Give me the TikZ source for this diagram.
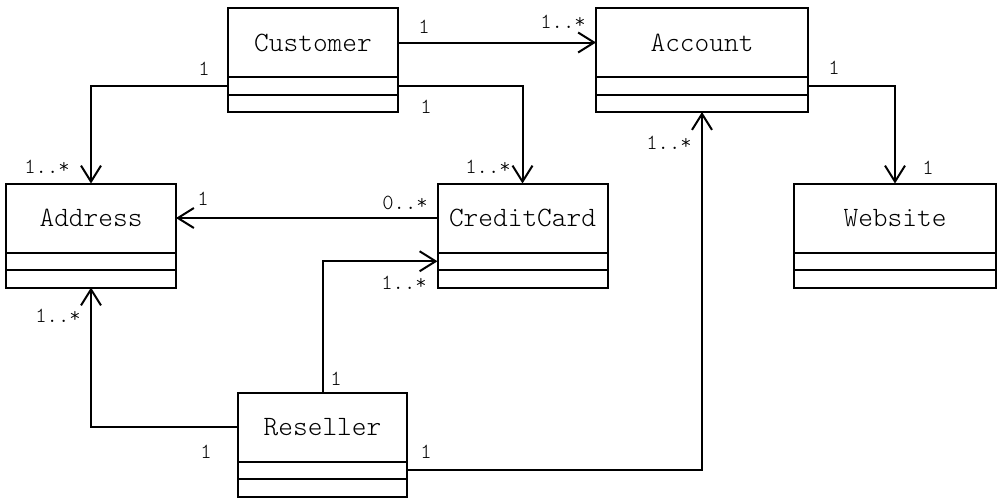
\documentclass[tikz,border=0pt]{standalone}
\usepackage{fontspec}
\setmonofont{Latin Modern Mono Light}
\usetikzlibrary{arrows.meta}
\begin{document}
\begin{tikzpicture}[x=1pt,y=-1pt,
  namebox/.style={draw,line width=2pt,outer sep=0pt,minimum height=69pt,inner sep=0pt,font=\ttfamily\fontsize{28}{30}\selectfont},
  compbox/.style={draw,line width=2pt,outer sep=0pt,minimum height=17.5pt,inner sep=0pt,anchor=north},
  lbl/.style={font=\ttfamily\fontsize{21.5}{23}\selectfont,inner sep=0pt},
  assoc/.style={line width=2pt,-{Straight Barb[length=16pt,width=20pt]}}]
\useasboundingbox (0,0) rectangle (1001,499);
\newcommand{\umlclass}[5]{%
  \node[namebox,minimum width=#5] (#1) at (#3,#4) {#2};
  \node[compbox,minimum width=#5] (#1a) at (#1.south) {};
  \node[compbox,minimum width=#5] (#1b) at (#1a.south) {};}
\umlclass{cust}{Customer}{313}{42.5}{170pt}
\umlclass{acct}{Account}{702}{42.5}{212pt}
\umlclass{addr}{Address}{91}{218}{170pt}
\umlclass{cc}{CreditCard}{522.5}{218}{170pt}
\umlclass{web}{Website}{895}{218}{202pt}
\umlclass{res}{Reseller}{322.5}{427}{169pt}
% connectors
\draw[assoc] (cust) -- (acct);
\draw[assoc] (custa.east) -| (cc.north);
\draw[assoc] (custa.west) -| (addr.north);
\draw[assoc] (cc.west) -- (addr.east);
\draw[assoc] (res.north) |- (cca.west);
\draw[assoc] (res.west) -| (addrb.south);
\draw[assoc] (resa.east) -| (acctb.south);
\draw[assoc] (accta.east) -| (web.north);
% multiplicities
\node[lbl] (m1) at (424,27) {1};
\node[lbl] (m2) at (563,22) {1..*};
\node[lbl] (m3) at (426,107) {1};
\node[lbl] (m4) at (488,167) {1..*};
\node[lbl] (m5) at (204,69) {1};
\node[lbl] (m6) at (47,167) {1..*};
\node[lbl] (m7) at (203,199) {1};
\node[lbl] (m8) at (405,203) {0..*};
\node[lbl] (m9) at (404,283) {1..*};
\node[lbl] (m10) at (58,316) {1..*};
\node[lbl] (m11) at (336,379) {1};
\node[lbl] (m12) at (206,452) {1};
\node[lbl] (m13) at (426,452) {1};
\node[lbl] (m14) at (669,143) {1..*};
\node[lbl] (m15) at (834,68) {1};
\node[lbl] (m16) at (928,168) {1};
\end{tikzpicture}
\end{document}
